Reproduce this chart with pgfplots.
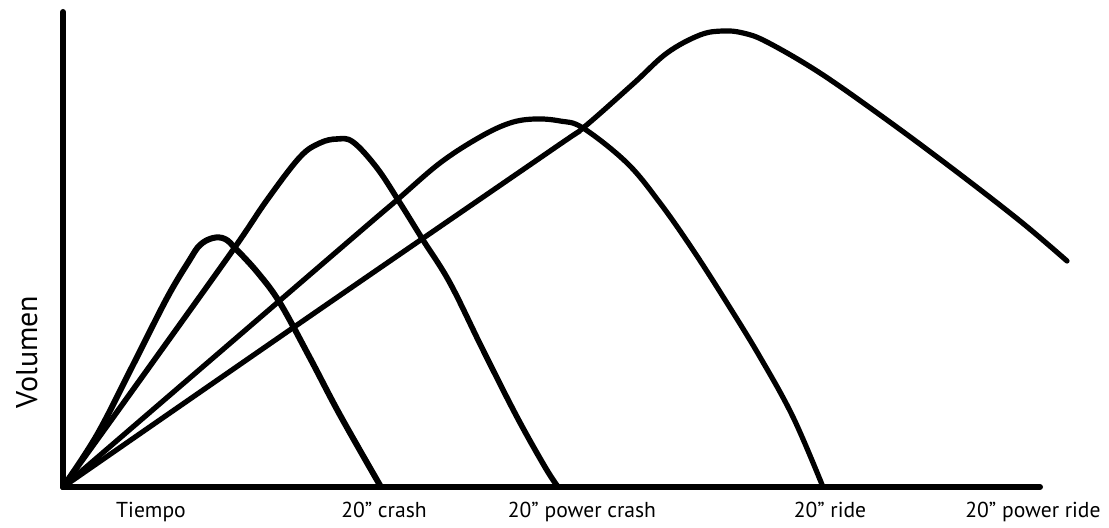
\documentclass[border=0pt]{standalone}
\usepackage{fontspec}
\setmainfont{PT Sans}
\usepackage{pgfplots}
\pgfplotsset{compat=1.18}
\begin{document}
\begin{tikzpicture}
\begin{axis}[
  scale only axis, width=554.5pt, height=263.5pt,
  xmin=-63, xmax=1046, ymin=-40, ymax=487,
  hide axis, clip=false,
]
\path (axis cs:-63,-40) rectangle (axis cs:1046,487);
% axes
\addplot[black, line width=3pt, line cap=round, line join=round] coordinates {(0,475) (0,0) (977,0)};
% 20" crash
\addplot[black, line width=3pt, smooth, tension=0.6, line cap=round] coordinates {
(0,0) (34,52) (70,122) (104,189) (126,226) (137,242) (150,249) (162,248) (173,238) (195,214) (217,184) (247,129) (277,72) (318,0)};
% 20" power crash
\addplot[black, line width=2.8pt, smooth, tension=0.6, line cap=round] coordinates {
(0,0) (87,121) (170,237) (204,287) (237,330) (257,344) (274,348) (290,345) (314,319) (337,284) (360,247) (387,204) (420,137) (454,70) (482,20) (495,0)};
% 20" ride
\addplot[black, line width=2.6pt, smooth, tension=0.6, line cap=round] coordinates {
(0,0) (150,129) (300,258) (334,287) (377,324) (417,350) (447,364) (472,368) (497,366) (520,359) (564,324) (597,284) (630,237) (664,184) (697,130) (730,70) (760,0)};
% 20" power ride
\addplot[black, line width=2.6pt, smooth, tension=0.6, line cap=round] coordinates {
(0,0) (250,173) (490,338) (520,359) (570,403) (604,434) (637,452) (660,456) (680,454) (704,445) (757,414) (824,367) (890,318) (957,266) (1004,226)};
% labels
\node[anchor=base, font=\fontsize{10.8}{12}\selectfont] at (axis cs:88,-30) {Tiempo};
\node[anchor=base, font=\fontsize{10.8}{12}\selectfont] at (axis cs:321,-30) {20” crash};
\node[anchor=base, font=\fontsize{10.8}{12}\selectfont] at (axis cs:519,-30) {20” power crash};
\node[anchor=base, font=\fontsize{10.8}{12}\selectfont] at (axis cs:767,-30) {20” ride};
\node[anchor=base, font=\fontsize{10.8}{12}\selectfont] at (axis cs:970,-30) {20” power ride};
\node[anchor=base, rotate=90, font=\fontsize{15}{17}\selectfont] at (axis cs:-26,135) {Volumen};
\end{axis}
\end{tikzpicture}
\end{document}
